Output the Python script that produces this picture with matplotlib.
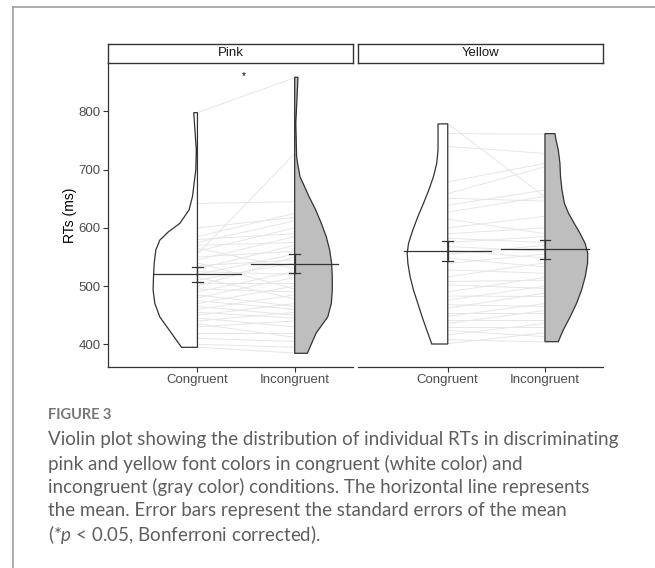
import matplotlib.pyplot as plt
from matplotlib.lines import Line2D

plt.rcParams['font.family'] = ['Liberation Sans', 'DejaVu Sans']
plt.rcParams['mathtext.fontset'] = 'custom'
plt.rcParams['mathtext.rm'] = 'Lato'
plt.rcParams['mathtext.it'] = 'Lato:italic'

W, H = 655, 568

panels = ['Pink', 'Yellow']
conditions = ['Congruent', 'Incongruent']
yticks = [400, 500, 600, 700, 800]

# paired RTs per subject (ms)
pink_congruent = [798, 555, 642, 585, 600, 575, 560, 580, 545, 570, 530, 550, 520, 500,
                  535, 510, 565, 490, 525, 480, 505, 470, 540, 495, 460, 515, 450, 485,
                  475, 440, 465, 455, 430, 445, 420, 435, 410, 400, 395]
pink_incongruent = [858, 728, 645, 625, 618, 612, 600, 590, 585, 575, 570, 560, 555, 550,
                    545, 540, 530, 525, 520, 515, 505, 500, 495, 490, 485, 478, 470, 465,
                    460, 455, 450, 445, 440, 430, 420, 412, 405, 395, 385]
yellow_congruent = [779, 762, 740, 679, 659, 651, 639, 627, 615, 600, 590, 582, 575, 568,
                    562, 555, 548, 539, 528, 516, 508, 502, 490, 483, 476, 468, 462, 453,
                    448, 442, 436, 430, 424, 416, 408, 401]
yellow_incongruent = [653, 761, 728, 711, 705, 646, 665, 654, 590, 620, 600, 575, 585, 560,
                      548, 570, 533, 555, 522, 540, 510, 496, 515, 482, 500, 465, 488, 453,
                      470, 442, 458, 430, 413, 436, 404, 420]

# violin outlines: RT level and half width (x units)
pink_cong_rt = [394.8, 419, 447, 470, 493, 516, 539, 562, 579, 593, 608, 631, 654, 677, 700, 734, 798]
pink_cong_w = [0.164, 0.267, 0.387, 0.438, 0.456, 0.452, 0.445, 0.428, 0.387, 0.30, 0.18, 0.086,
               0.051, 0.034, 0.017, 0.012, 0.038]
pink_incong_rt = [384.5, 419, 447, 470, 493, 516, 539, 562, 585, 608, 631, 654, 677, 688, 711,
                  723, 780, 858.8]
pink_incong_w = [0.13, 0.22, 0.34, 0.377, 0.387, 0.387, 0.38, 0.36, 0.325, 0.274, 0.216, 0.147,
                 0.085, 0.055, 0.03, 0.02, 0.012, 0.034]
yellow_cong_rt = [400.5, 424.6, 447.4, 470.4, 493, 516, 539, 556, 573, 596, 619, 642, 665, 688,
                  711, 734, 757, 778.7]
yellow_cong_w = [0.164, 0.216, 0.264, 0.308, 0.352, 0.387, 0.41, 0.417, 0.404, 0.36, 0.308, 0.25,
                 0.195, 0.147, 0.113, 0.1, 0.1, 0.1]
yellow_incong_rt = [404.5, 424.6, 447.4, 470.4, 493, 516, 539, 556, 573, 590, 608, 625, 642, 665,
                    688, 711, 734, 751.5, 762]
yellow_incong_w = [0.137, 0.188, 0.26, 0.325, 0.376, 0.414, 0.438, 0.44, 0.414, 0.363, 0.30, 0.243,
                   0.2, 0.175, 0.16, 0.154, 0.137, 0.113, 0.103]

# mean and standard error bounds
pink_mean = [520.3, 538.5]
pink_se_lo = [506.5, 522]
pink_se_hi = [533.3, 555]
yellow_mean = [560.8, 563.2]
yellow_se_lo = [543.6, 546.5]
yellow_se_hi = [578, 579]

caption_lines = [
    'Violin plot showing the distribution of individual RTs in discriminating',
    'pink and yellow font colors in congruent (white color) and',
    'incongruent (gray color) conditions. The horizontal line represents',
    'the mean. Error bars represent the standard errors of the mean',
    r'(*$\mathit{p}$ < 0.05, Bonferroni corrected).',
]

EDGE = '#333333'


def px_rect(x0, y0, x1, y1):
    return [x0 / W, 1 - y1 / H, (x1 - x0) / W, (y1 - y0) / H]


def half_violin(ax, pos, rt, w, side, fill):
    if side < 0:
        xs = [pos] + [pos - v for v in w] + [pos]
    else:
        xs = [pos] + [pos + v for v in w] + [pos]
    ys = [rt[0]] + list(rt) + [rt[-1]]
    ax.fill(xs, ys, facecolor=fill, edgecolor=EDGE, lw=0.9, zorder=2)


def draw_panel(ax, cong, incong, outlines, mean, lo, hi):
    for a, b in zip(cong, incong):
        ax.plot([1, 2], [a, b], color='#e6e6e6', lw=0.7, zorder=1)
    half_violin(ax, 1, outlines[0], outlines[1], -1, 'white')
    half_violin(ax, 2, outlines[2], outlines[3], 1, '#bebebe')
    for i, x in enumerate([1, 2]):
        ax.plot([x - 0.45, x + 0.45], [mean[i], mean[i]], color=EDGE, lw=0.9, zorder=3)
        ax.plot([x, x], [lo[i], hi[i]], color=EDGE, lw=0.9, zorder=3)
        for v in (lo[i], hi[i]):
            ax.plot([x - 0.055, x + 0.055], [v, v], color=EDGE, lw=0.9, zorder=3)
    ax.set_xlim(0.08, 2.6)
    ax.set_ylim(361.5, 882.8)
    ax.set_xticks([1, 2])
    ax.set_xticklabels(conditions, fontsize=9.5, color='#4d4d4d')
    ax.tick_params(length=3.5, width=0.8, color='#333333', pad=2)
    for s in ['top', 'right']:
        ax.spines[s].set_visible(False)
    for s in ['left', 'bottom']:
        ax.spines[s].set_linewidth(0.9)
        ax.spines[s].set_color('#333333')


fig = plt.figure(figsize=(W / 100, H / 100), dpi=100)

lefts = [108, 358.3]
data = [
    (pink_congruent, pink_incongruent,
     (pink_cong_rt, pink_cong_w, pink_incong_rt, pink_incong_w),
     pink_mean, pink_se_lo, pink_se_hi),
    (yellow_congruent, yellow_incongruent,
     (yellow_cong_rt, yellow_cong_w, yellow_incong_rt, yellow_incong_w),
     yellow_mean, yellow_se_lo, yellow_se_hi),
]

for k, name in enumerate(panels):
    x0 = lefts[k]
    ax = fig.add_axes(px_rect(x0, 63.3, x0 + 245, 366.7))
    draw_panel(ax, *data[k])
    if k == 0:
        ax.set_yticks(yticks)
        ax.set_yticklabels([str(t) for t in yticks], fontsize=9.5, color='#4d4d4d')
        ax.set_ylabel('RTs (ms)', fontsize=10, labelpad=1)
        ax.text(1.48, 860, '*', ha='center', va='center', fontsize=7)
    else:
        ax.set_yticks([])
        ax.spines['left'].set_visible(False)

    strip = fig.add_axes(px_rect(x0, 44.3, x0 + 245, 62.7))
    strip.set_xticks([])
    strip.set_yticks([])
    for s in strip.spines.values():
        s.set_linewidth(1.0)
        s.set_color('#333333')
    strip.text(0.5, 0.5, name, ha='center', va='center', fontsize=9.5, color='#1a1a1a',
               transform=strip.transAxes)

# outer frame of the figure box
fig.add_artist(Line2D([13.3 / W, 13.3 / W], [0, 1 - 6.7 / H], color='#a0a0a0', lw=1.2))
fig.add_artist(Line2D([13.3 / W, 1], [1 - 6.7 / H, 1 - 6.7 / H], color='#a0a0a0', lw=1.2))

fig.text(48 / W, 1 - 415 / H, 'FIGURE 3', family='Lato', weight='bold', fontsize=10.5,
         color='#777777', va='center')
for i, line in enumerate(caption_lines):
    fig.text(48 / W, 1 - (440 + 23.5 * i) / H, line, family='Lato', fontsize=13.5,
             color='#5e5e5e', va='center')

fig.savefig('out.png', dpi=100)
